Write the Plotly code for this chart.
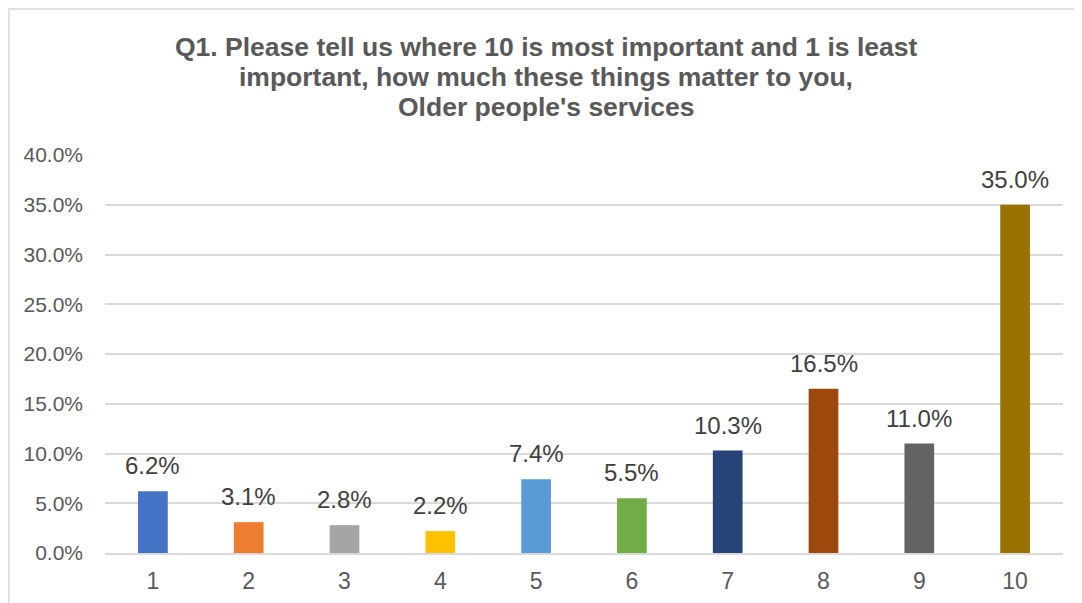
import plotly.graph_objects as go

categories = ["1", "2", "3", "4", "5", "6", "7", "8", "9", "10"]
values = [6.2, 3.1, 2.8, 2.2, 7.4, 5.5, 10.3, 16.5, 11.0, 35.0]
colors = ["#4472C4", "#ED7D31", "#A5A5A5", "#FFC000", "#5B9BD5",
          "#70AD47", "#264478", "#9E480E", "#636363", "#997300"]
y_ticks = [0, 5, 10, 15, 20, 25, 30, 35, 40]
y_tick_labels = [f"{v:.1f}%" for v in y_ticks]
title_lines = ["Q1. Please tell us where 10 is most important and 1 is least",
               "important, how much these things matter to you,",
               "Older people's services"]

FONT = "Liberation Sans, Arial, sans-serif"

# page is offset by the 8px body margin
W, H = 1074, 595
L, R, T, B = 97, 19, 147, 50
pw, ph = W - L - R, H - T - B


def px_to_paper_y(yfig):
    return (H - B - yfig) / ph


def px_to_paper_x(xfig):
    return (xfig - L) / pw


fig = go.Figure()
fig.add_trace(go.Bar(
    x=categories, y=values,
    marker=dict(color=colors, line=dict(width=0)),
    width=0.31,
    hoverinfo="x+y",
))

for i, v in enumerate(values):
    fig.add_annotation(x=i, y=v, xref="x", yref="y", text=f"{v:.1f}%",
                       showarrow=False, yanchor="bottom", yshift=10,
                       font=dict(family=FONT, size=24, color="#404040"))

# title lines (explicit line spacing)
for k, line in enumerate(title_lines):
    fig.add_annotation(xref="paper", yref="paper",
                       x=px_to_paper_x(538), y=px_to_paper_y(39 + 30 * k),
                       xanchor="center", yanchor="middle", showarrow=False,
                       text=f"<b>{line}</b>",
                       font=dict(family=FONT, size=26.5, color="#595959"))

fig.add_shape(type="rect", xref="paper", yref="paper",
              x0=px_to_paper_x(1), x1=px_to_paper_x(W + 10),
              y0=px_to_paper_y(H + 20), y1=px_to_paper_y(1),
              line=dict(color="#D9D9D9", width=1.5), fillcolor="rgba(0,0,0,0)",
              layer="below")

fig.update_layout(
    width=W, height=H,
    margin=dict(l=L, r=R, t=T, b=B),
    paper_bgcolor="white", plot_bgcolor="white",
    showlegend=False,
    yaxis=dict(range=[0, 40], tickvals=y_ticks, ticktext=y_tick_labels,
               showgrid=True, gridcolor="#D9D9D9", gridwidth=1.5,
               zeroline=False, showline=False, ticks="", ticklen=0,
               ticklabelstandoff=21, automargin=False,
               tickfont=dict(family=FONT, size=21, color="#595959")),
    xaxis=dict(type="category", range=[-0.5, 9.5],
               showgrid=False, zeroline=False, showline=True,
               linecolor="#D9D9D9", linewidth=1.5, ticks="",
               ticklabelstandoff=7, automargin=False,
               tickfont=dict(family=FONT, size=23, color="#595959")),
)

fig.write_html("out.html")
